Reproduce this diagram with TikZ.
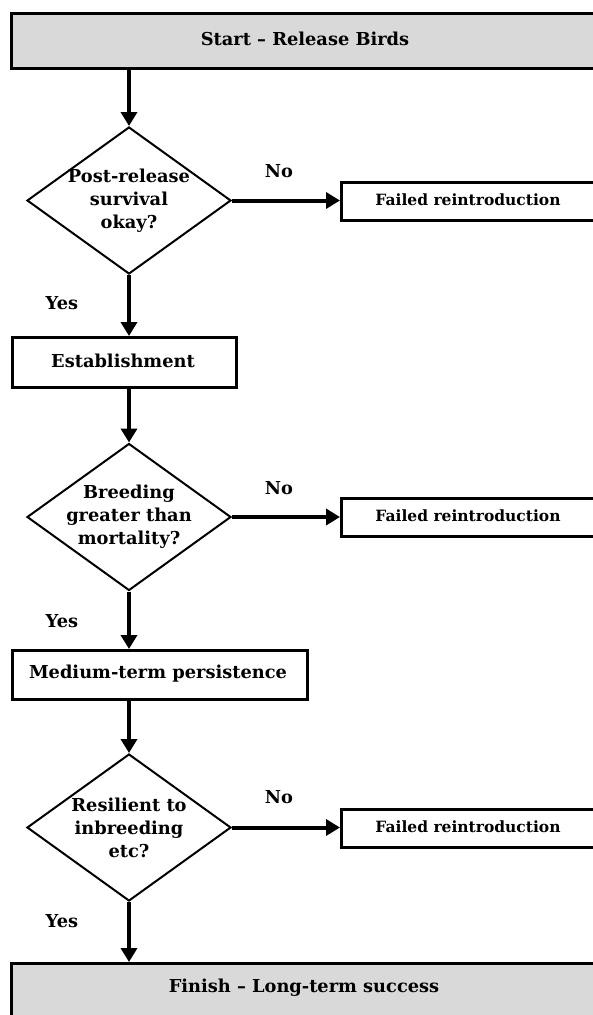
\documentclass[tikz,border=0pt]{standalone}
\usepackage{fontspec}
\setmainfont{DejaVu Serif}
\usetikzlibrary{shapes.geometric,arrows.meta}
\definecolor{boxgray}{HTML}{D9D9D9}
\begin{document}
\begin{tikzpicture}[x=1pt,y=-1pt,
  every node/.style={font=\bfseries\fontsize{17.8}{23}\selectfont},
  smallfont/.style={font=\bfseries\fontsize{15.5}{19}\selectfont},
  rectbox/.style={draw=black,line width=2.5pt,rectangle,inner sep=0pt,anchor=north west},
  graybox/.style={rectbox,fill=boxgray},
  decision/.style={draw=black,line width=2pt,diamond,inner sep=0pt,
    minimum width=204pt,minimum height=147pt,aspect=1.39},
  arr/.style={line width=4pt,-{Triangle[length=14pt,width=16pt]}},
  lbl/.style={inner sep=0pt,align=center}]
\useasboundingbox (0,0) rectangle (592,1015);

% boxes
\node[graybox,minimum width=585pt,minimum height=55pt] (start) at (10,12) {};
\node[lbl] (starttxt) at (305,39) {Start – Release Birds};

\node[decision] (d1) at (129,200.5) {};
\node[lbl] (d1txt) at (129,200.5) {Post-release\\survival\\okay?};
\node[rectbox,minimum width=256pt,minimum height=38pt] (f1) at (340,181) {};
\node[lbl,smallfont] (f1txt) at (468,200) {Failed reintroduction};

\node[rectbox,minimum width=224pt,minimum height=50pt] (est) at (11,336) {};
\node[lbl] (esttxt) at (123,361) {Establishment};

\node[decision] (d2) at (129,517) {};
\node[lbl] (d2txt) at (129,517) {Breeding\\greater than\\mortality?};
\node[rectbox,minimum width=256pt,minimum height=38pt] (f2) at (340,497) {};
\node[lbl,smallfont] (f2txt) at (468,516) {Failed reintroduction};

\node[rectbox,minimum width=295pt,minimum height=49pt] (med) at (11,649) {};
\node[lbl] (medtxt) at (158,674) {Medium-term persistence};

\node[decision] (d3) at (129,827.5) {};
\node[lbl] (d3txt) at (129,827.5) {Resilient to\\inbreeding\\etc?};
\node[rectbox,minimum width=256pt,minimum height=38pt] (f3) at (340,808) {};
\node[lbl,smallfont] (f3txt) at (468,827) {Failed reintroduction};

\node[graybox,minimum width=585pt,minimum height=56pt] (fin) at (10,962) {};
\node[lbl] (fintxt) at (304,988) {Finish – Long-term success};

% labels
\node[lbl] (no1) at (279,171) {No};
\node[lbl] (no2) at (279,488) {No};
\node[lbl] (no3) at (279,797) {No};
\node[lbl] (yes1) at (62,303) {Yes};
\node[lbl] (yes2) at (62,621) {Yes};
\node[lbl] (yes3) at (62,921) {Yes};

% connectors
\draw[arr] (d1.north |- start.south) -- (d1.north);
\draw[arr] (d1.east) -- (f1.west |- d1.east);
\draw[arr] (d1.south) -- (d1.south |- est.north);
\draw[arr] (d2.north |- est.south) -- (d2.north);
\draw[arr] (d2.east) -- (f2.west |- d2.east);
\draw[arr] (d2.south) -- (d2.south |- med.north);
\draw[arr] (d3.north |- med.south) -- (d3.north);
\draw[arr] (d3.east) -- (f3.west |- d3.east);
\draw[arr] (d3.south) -- (d3.south |- fin.north);
\end{tikzpicture}
\end{document}
